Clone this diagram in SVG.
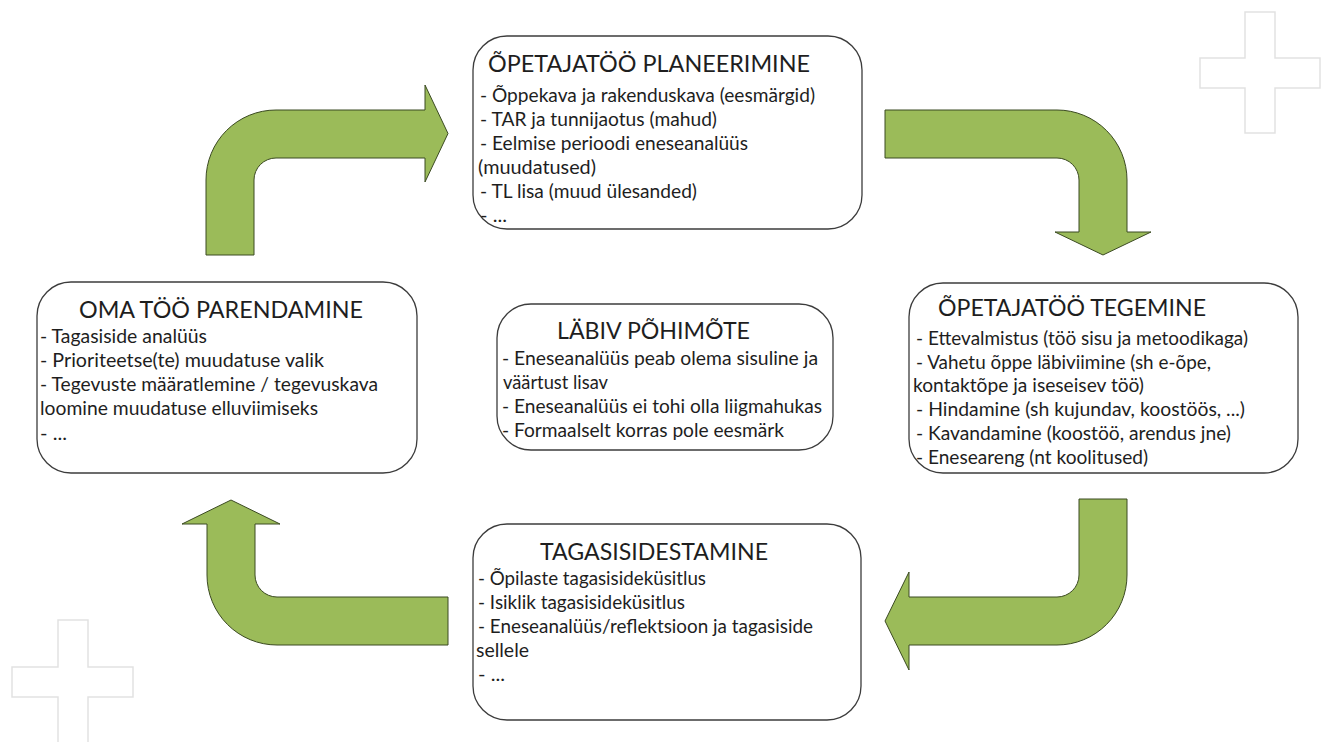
<svg xmlns="http://www.w3.org/2000/svg" width="1333" height="742" viewBox="0 0 1333 742">
<style>
.box{fill:#fff;stroke:#3c3c3c;stroke-width:1.3}
.arrow{fill:#9bbb59;stroke:#3b4a22;stroke-width:1}
.deco{fill:none;stroke:#e2e2e2;stroke-width:1.5}
text{font-family:Lato,"Liberation Sans",sans-serif;fill:#1e1e1e}
.t{font-size:24px}
.b{font-size:19.5px}
</style>
<rect width="1333" height="742" fill="#fff"/>
<g id="decor">
<path class="deco" d="M1245 12H1275V58H1320V88H1275V133H1245V88H1200V58H1245Z"/>
<path class="deco" d="M58 620H88V667H133V697H88V745H58V697H12V667H58Z"/>
</g>
<g id="connectors">
<path class="arrow" d="M206 255L206 180A70 70 0 0 1 276 110L425 110L425 85L448 133.5L425 182L425 158L276 158A22 22 0 0 0 254 180L254 255Z"/>
<path class="arrow" d="M885 110L1057 110A70 70 0 0 1 1127 180L1127 232L1151 232L1103 255L1055 232L1079 232L1079 180A22 22 0 0 0 1057 158L885 158Z"/>
<path class="arrow" d="M1079 499L1127 499L1127 575A70 70 0 0 1 1057 645L909 645L909 670L885 621L909 572L909 597L1057 597A22 22 0 0 0 1079 575Z"/>
<path class="arrow" d="M448 597L448 645L277 645A70 70 0 0 1 207 575L207 524L182 524L231 500L280 524L255 524L255 575A22 22 0 0 0 277 597Z"/>
</g>
<g id="planeerimine">
<rect class="box" x="473" y="36" width="389" height="193" rx="34"/>
<text class="t" x="488" y="72" textLength="322" lengthAdjust="spacingAndGlyphs">ÕPETAJATÖÖ PLANEERIMINE</text>
<text class="b" x="480" y="102" textLength="335" lengthAdjust="spacingAndGlyphs">- Õppekava ja rakenduskava (eesmärgid)</text>
<text class="b" x="480" y="126" textLength="237" lengthAdjust="spacingAndGlyphs">- TAR ja tunnijaotus (mahud)</text>
<text class="b" x="480" y="150" textLength="268" lengthAdjust="spacingAndGlyphs">- Eelmise perioodi eneseanalüüs</text>
<text class="b" x="478" y="174" textLength="118" lengthAdjust="spacingAndGlyphs">(muudatused)</text>
<text class="b" x="480" y="198" textLength="217" lengthAdjust="spacingAndGlyphs">- TL lisa (muud ülesanded)</text>
<text class="b" x="480" y="222" textLength="27" lengthAdjust="spacingAndGlyphs">- ...</text>
</g>
<g id="tegemine">
<rect class="box" x="909" y="283" width="389" height="190" rx="34"/>
<text class="t" x="938" y="316" textLength="268" lengthAdjust="spacingAndGlyphs">ÕPETAJATÖÖ TEGEMINE</text>
<text class="b" x="916" y="345" textLength="332" lengthAdjust="spacingAndGlyphs">- Ettevalmistus (töö sisu ja metoodikaga)</text>
<text class="b" x="916" y="369" textLength="295" lengthAdjust="spacingAndGlyphs">- Vahetu õppe läbiviimine (sh e-õpe,</text>
<text class="b" x="913" y="392" textLength="231" lengthAdjust="spacingAndGlyphs">kontaktõpe ja iseseisev töö)</text>
<text class="b" x="916" y="416" textLength="329" lengthAdjust="spacingAndGlyphs">- Hindamine (sh kujundav, koostöös, ...)</text>
<text class="b" x="916" y="440" textLength="315" lengthAdjust="spacingAndGlyphs">- Kavandamine (koostöö, arendus jne)</text>
<text class="b" x="916" y="464" textLength="232" lengthAdjust="spacingAndGlyphs">- Eneseareng (nt koolitused)</text>
</g>
<g id="tagasisidestamine">
<rect class="box" x="473" y="524" width="388" height="196" rx="34"/>
<text class="t" x="540" y="560" textLength="228" lengthAdjust="spacingAndGlyphs">TAGASISIDESTAMINE</text>
<text class="b" x="478" y="585" textLength="228" lengthAdjust="spacingAndGlyphs">- Õpilaste tagasisideküsitlus</text>
<text class="b" x="478" y="609" textLength="207" lengthAdjust="spacingAndGlyphs">- Isiklik tagasisideküsitlus</text>
<text class="b" x="478" y="633" textLength="335" lengthAdjust="spacingAndGlyphs">- Eneseanalüüs/reflektsioon ja tagasiside</text>
<text class="b" x="476" y="657" textLength="53" lengthAdjust="spacingAndGlyphs">sellele</text>
<text class="b" x="478" y="681" textLength="27" lengthAdjust="spacingAndGlyphs">- ...</text>
</g>
<g id="parendamine">
<rect class="box" x="37" y="282" width="380" height="191" rx="34"/>
<text class="t" x="79" y="318" textLength="284" lengthAdjust="spacingAndGlyphs">OMA TÖÖ PARENDAMINE</text>
<text class="b" x="40" y="343" textLength="167" lengthAdjust="spacingAndGlyphs">- Tagasiside analüüs</text>
<text class="b" x="40" y="367" textLength="284" lengthAdjust="spacingAndGlyphs">- Prioriteetse(te) muudatuse valik</text>
<text class="b" x="40" y="391" textLength="338" lengthAdjust="spacingAndGlyphs">- Tegevuste määratlemine / tegevuskava</text>
<text class="b" x="40" y="415" textLength="278" lengthAdjust="spacingAndGlyphs">loomine muudatuse elluviimiseks</text>
<text class="b" x="40" y="440" textLength="27" lengthAdjust="spacingAndGlyphs">- ...</text>
</g>
<g id="pohimote">
<rect class="box" x="497" y="304" width="336" height="146" rx="34"/>
<text class="t" x="557" y="339" textLength="193" lengthAdjust="spacingAndGlyphs">LÄBIV PÕHIMÕTE</text>
<text class="b" x="502" y="365" textLength="316" lengthAdjust="spacingAndGlyphs">- Eneseanalüüs peab olema sisuline ja</text>
<text class="b" x="503" y="389" textLength="105" lengthAdjust="spacingAndGlyphs">väärtust lisav</text>
<text class="b" x="502" y="413" textLength="320" lengthAdjust="spacingAndGlyphs">- Eneseanalüüs ei tohi olla liigmahukas</text>
<text class="b" x="502" y="437" textLength="282" lengthAdjust="spacingAndGlyphs">- Formaalselt korras pole eesmärk</text>
</g>
</svg>
